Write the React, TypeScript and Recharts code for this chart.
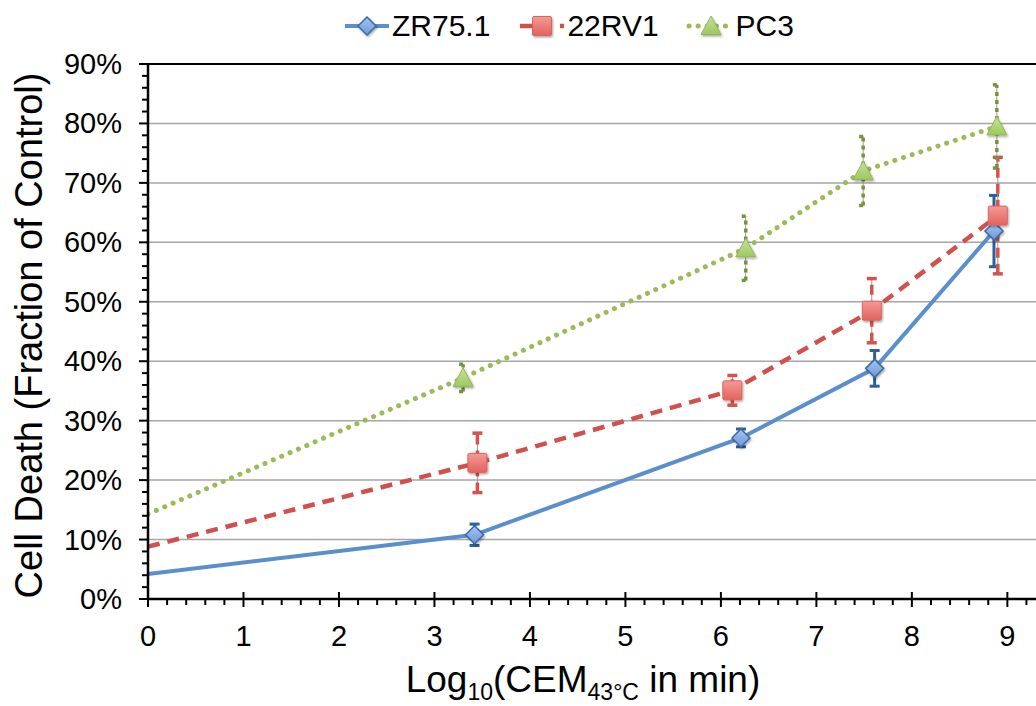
import React from "react";
import { LineChart, Line, XAxis, YAxis, ReferenceLine, ErrorBar, Legend } from "recharts";

const FONT = '"Liberation Sans", Arial, Helvetica, sans-serif';

// x = log10(CEM43 in min), y = fraction of control, e = +/- error
const zrX = [0, 3.42, 6.21, 7.61, 8.86];
const zrY = [0.042, 0.108, 0.271, 0.388, 0.619];
const zrE = [0, 0.018, 0.015, 0.03, 0.06];

const rvX = [0, 3.45, 6.12, 7.58, 8.9];
const rvY = [0.088, 0.229, 0.351, 0.485, 0.645];
const rvE = [0, 0.05, 0.025, 0.054, 0.098];

const pcX = [0, 3.3, 6.26, 7.49, 8.89];
const pcY = [0.143, 0.372, 0.59, 0.72, 0.795];
const pcE = [0, 0.023, 0.054, 0.058, 0.07];

const gridValues = [0.1, 0.2, 0.3, 0.4, 0.5, 0.6, 0.7, 0.8];
const xTicks = Array.from({ length: 47 }, (_, i) => +(i * 0.2).toFixed(1));
const yTicks = Array.from({ length: 46 }, (_, i) => +(i * 0.02).toFixed(2));

const toRows = (xs: number[], ys: number[], es: number[]) =>
  xs.map((x, i) => ({ x, y: ys[i], err: es[i] }));

const zrData = toRows(zrX, zrY, zrE);
const rvData = toRows(rvX, rvY, rvE);
const pcData = toRows(pcX, pcY, pcE);

const BLUE = "#5B8FCC";
const RED = "#D0504D";
const GREEN = "#9BBB59";

function diamond(cx: number, cy: number, key?: any) {
  const r = 9;
  return (
    <path key={key} d={`M${cx},${cy - r}L${cx + r},${cy}L${cx},${cy + r}L${cx - r},${cy}Z`}
      fill="url(#gBlue)" stroke="#3A6BAA" strokeWidth={1.5} filter="url(#shadow)" />
  );
}
function square(cx: number, cy: number, key?: any) {
  const r = 9.5;
  return (
    <rect key={key} x={cx - r} y={cy - r} width={2 * r} height={2 * r} rx={1.5}
      fill="url(#gRed)" stroke="#D9635F" strokeWidth={1} filter="url(#shadow)" />
  );
}
function triangle(cx: number, cy: number, key?: any) {
  const r = 10;
  return (
    <path key={key} d={`M${cx},${cy - r}L${cx + r},${cy + r * 0.85}L${cx - r},${cy + r * 0.85}Z`}
      fill="url(#gGreen)" stroke="#93B65A" strokeWidth={1} filter="url(#shadow)" />
  );
}

const makeDot = (shape: (cx: number, cy: number, key?: any) => any) => (props: any) => {
  const { cx, cy, index } = props;
  if (index === 0 || cx == null || cy == null) return <g key={`e-${index}`} />;
  return shape(cx, cy, `m-${index}`);
};

const XTick = (props: any) => {
  const { x, y, payload } = props;
  const v = payload.value;
  const major = Math.abs(v - Math.round(v)) < 1e-6;
  return (
    <g>
      <line x1={x} x2={x} y1={major ? y - 7 : y} y2={y + (major ? 8 : 6)} stroke="#000" strokeWidth={2} />
      {major && (
        <text x={x} y={y + 47} textAnchor="middle" fontSize={29} fontFamily={FONT} fill="#000">
          {Math.round(v)}
        </text>
      )}
    </g>
  );
};

const YTick = (props: any) => {
  const { x, y, payload } = props;
  const v = payload.value;
  const major = Math.abs(v * 10 - Math.round(v * 10)) < 1e-6;
  return (
    <g>
      <line x1={x - (major ? 9 : 6)} x2={x} y1={y} y2={y} stroke="#000" strokeWidth={2} />
      {major && (
        <text x={x - 26} y={y + 10} textAnchor="end" fontSize={29} fontFamily={FONT} fill="#000">
          {`${Math.round(v * 100)}%`}
        </text>
      )}
    </g>
  );
};

const YLabel = (props: any) => {
  const { viewBox } = props;
  const cy = viewBox.y + viewBox.height / 2 + 4;
  return (
    <text x={42} y={cy} transform={`rotate(-90, 42, ${cy})`} textAnchor="middle"
      fontSize={38} fontFamily={FONT} fill="#000">
      Cell Death (Fraction of Control)
    </text>
  );
};

const XLabel = () => (
  <text x={583} y={692} textAnchor="middle" fontSize={37} fontFamily={FONT} fill="#000">
    Log<tspan fontSize={23} dy={8}>10</tspan>
    <tspan dy={-8}>(CEM</tspan>
    <tspan fontSize={23} dy={8}>43°C</tspan>
    <tspan dy={-8}> in min)</tspan>
  </text>
);

const legendItems = [
  { name: "ZR75.1", color: BLUE, dash: undefined, cap: "butt", width: 4, shape: diamond },
  { name: "22RV1", color: RED, dash: "12 8", cap: "butt", width: 4.5, shape: square },
  { name: "PC3", color: GREEN, dash: "0.1 9", cap: "round", width: 5, shape: triangle },
];

const renderLegend = () => (
  <div style={{ display: "flex", alignItems: "center", height: 44, paddingLeft: 345, fontFamily: FONT, fontSize: 30, color: "#000" }}>
    {legendItems.map((it) => (
      <div key={it.name} style={{ display: "flex", alignItems: "center", marginRight: 30 }}>
        <svg width={44} height={30} style={{ overflow: "visible" }}>
          <line x1={0} x2={44} y1={15} y2={15} stroke={it.color} strokeWidth={it.width}
            strokeDasharray={it.dash} strokeLinecap={it.cap as any} />
          {it.shape(22, 15)}
        </svg>
        <span style={{ marginLeft: 3, lineHeight: "44px" }}>{it.name}</span>
      </div>
    ))}
  </div>
);

export default function App() {
  return (
    <div style={{ position: "absolute", left: 0, top: 0, width: 1036, height: 706, background: "#fff" }}>
      <LineChart width={1036} height={706} margin={{ top: 20, right: 0, bottom: 0, left: 0 }}>
        <defs>
          <linearGradient id="gBlue" x1="0" y1="0" x2="0" y2="1">
            <stop offset="0%" stopColor="#A7C5EE" />
            <stop offset="100%" stopColor="#6A9AD8" />
          </linearGradient>
          <linearGradient id="gRed" x1="0" y1="0" x2="0" y2="1">
            <stop offset="0%" stopColor="#F49A96" />
            <stop offset="100%" stopColor="#E3625E" />
          </linearGradient>
          <linearGradient id="gGreen" x1="0" y1="0" x2="0" y2="1">
            <stop offset="0%" stopColor="#C5E39A" />
            <stop offset="100%" stopColor="#9CC95F" />
          </linearGradient>
          <filter id="shadow" x="-50%" y="-50%" width="200%" height="200%">
            <feDropShadow dx="1" dy="1.5" stdDeviation="1.2" floodColor="#000" floodOpacity="0.35" />
          </filter>
        </defs>
        <Legend verticalAlign="top" content={renderLegend} wrapperStyle={{ left: 0, top: 4, width: 1036 }} />
        <XAxis type="number" dataKey="x" domain={[0, 9.3]} ticks={xTicks} interval={0} allowDataOverflow
          tick={<XTick />} tickLine={false} tickSize={0} tickMargin={0} height={107}
          axisLine={{ stroke: "#000", strokeWidth: 2.5 }} label={{ content: XLabel } as any} />
        <YAxis type="number" domain={[0, 0.9]} ticks={yTicks} interval={0} allowDataOverflow
          tick={<YTick />} tickLine={false} tickSize={0} tickMargin={0} width={148}
          axisLine={{ stroke: "#000", strokeWidth: 2.5 }} label={{ content: YLabel } as any} />
        {gridValues.map((g) => (
          <ReferenceLine key={g} y={g} stroke="#A6A6A6" strokeWidth={1.5} />
        ))}
        <ReferenceLine y={0.9} stroke="#000" strokeWidth={2} />
        <Line data={zrData} dataKey="y" name="ZR75.1" type="linear" stroke={BLUE} strokeWidth={4}
          dot={makeDot(diamond)} activeDot={false} isAnimationActive={false}>
          <ErrorBar dataKey="err" width={0} stroke="#999" strokeWidth={1} />
          <ErrorBar dataKey="err" width={5} stroke="#2F5E98" strokeWidth={3} />
        </Line>
        <Line data={rvData} dataKey="y" name="22RV1" type="linear" stroke={RED} strokeWidth={4.5}
          strokeDasharray="12 8" dot={makeDot(square)} activeDot={false} isAnimationActive={false}>
          <ErrorBar dataKey="err" width={0} stroke="#999" strokeWidth={1} />
          <ErrorBar dataKey="err" width={5} stroke="#D4534F" strokeWidth={3.5} strokeDasharray="10 6" />
        </Line>
        <Line data={pcData} dataKey="y" name="PC3" type="linear" stroke={GREEN} strokeWidth={5}
          strokeDasharray="0.1 9" strokeLinecap="round" dot={makeDot(triangle)} activeDot={false}
          isAnimationActive={false}>
          <ErrorBar dataKey="err" width={0} stroke="#999" strokeWidth={1} />
          <ErrorBar dataKey="err" width={4} stroke="#76933C" strokeWidth={3.5} strokeDasharray="4 4" />
        </Line>
      </LineChart>
    </div>
  );
}
